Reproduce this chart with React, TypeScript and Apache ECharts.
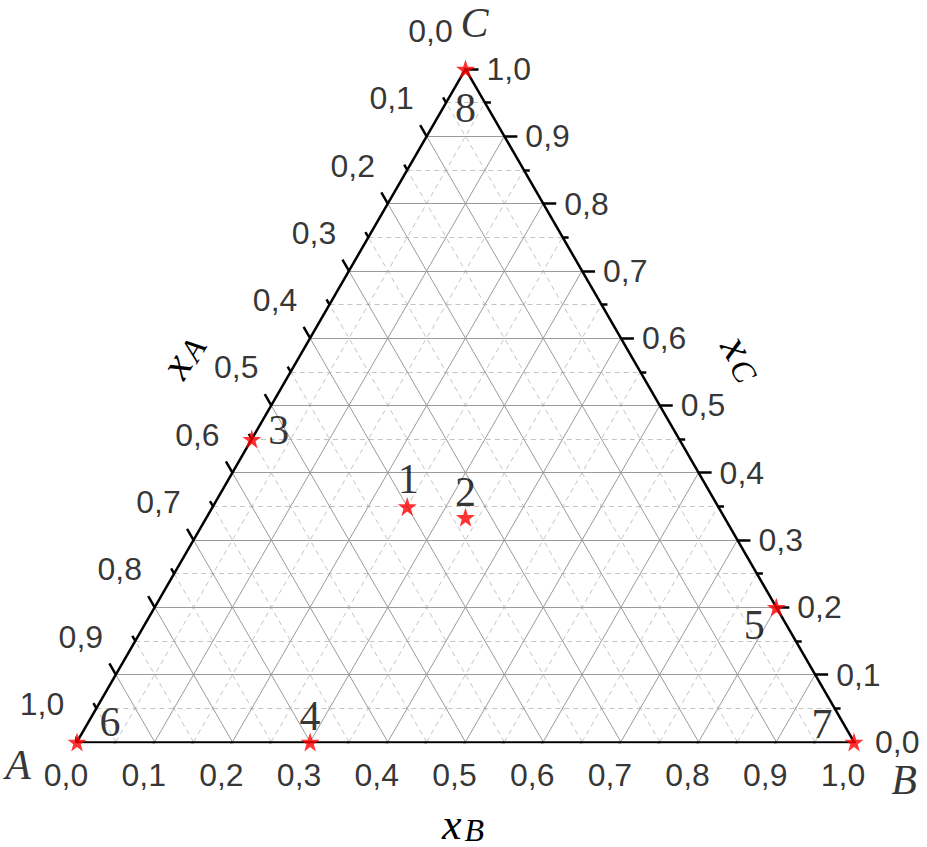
import React, { useEffect, useRef } from "react";
import * as echarts from "echarts";

// ---- data ----
const pointNames = ["1", "2", "3", "4", "5", "6", "7", "8"];
const pointXA = [0.4, 0.333, 0.55, 0.7, 0.0, 1.0, 0.0, 0.0];
const pointXB = [0.25, 0.333, 0.0, 0.3, 0.8, 0.0, 1.0, 0.0];
const pointXC = [0.35, 0.334, 0.45, 0.0, 0.2, 0.0, 0.0, 1.0];

const majorTicks = [0, 0.1, 0.2, 0.3, 0.4, 0.5, 0.6, 0.7, 0.8, 0.9, 1.0];
const minorTicks = [0.05, 0.15, 0.25, 0.35, 0.45, 0.55, 0.65, 0.75, 0.85, 0.95];
const tickLabels = ["0,0", "0,1", "0,2", "0,3", "0,4", "0,5", "0,6", "0,7", "0,8", "0,9", "1,0"];
const vertexNames = ["A", "B", "C"];

// ---- label placement (styling, px offsets from point) ----
const pointLabelOffsets: [number, number][] = [
  [1, -27],
  [0, -25],
  [27, -9],
  [0, -26],
  [-22, 18],
  [33, -20],
  [-32, -18],
  [0, 39],
];
const vertexLabelOffsets: [number, number][] = [
  [-59, 23],
  [50, 38],
  [9, -46],
];

const H = Math.sqrt(3) / 2;
const PX = 1 / 777; // one pixel in data units
const toXY = (b: number, c: number): [number, number] => [b + c / 2, c * H];

const STAR =
  "path://M50,0 L61.8,35.1 L98.1,35.1 L68.8,56.7 L79.4,91.6 L50,70 L20.6,91.6 L31.2,56.7 L1.9,35.1 L38.2,35.1 Z";

function gridSegments(vals: number[]) {
  const segs: { coords: [number, number][] }[] = [];
  vals.forEach((v) => {
    segs.push({ coords: [toXY(0, v), toXY(1 - v, v)] });
    segs.push({ coords: [toXY(v, 0), toXY(v, 1 - v)] });
    segs.push({ coords: [toXY(1 - v, 0), toXY(0, 1 - v)] });
  });
  return segs;
}

function tickSegments(vals: number[], len: number) {
  const segs: { coords: [number, number][] }[] = [];
  const L = len * PX;
  vals.forEach((v) => {
    const pb = toXY(v, 0);
    segs.push({ coords: [pb, [pb[0] - 0.5 * L, pb[1] - H * L]] });
    const pc = toXY(1 - v, v);
    segs.push({ coords: [pc, [pc[0] + L, pc[1]]] });
    const pa = toXY(0, 1 - v);
    segs.push({ coords: [pa, [pa[0] - 0.5 * L, pa[1] + H * L]] });
  });
  return segs;
}

const titleRich = {
  x: { fontFamily: "Liberation Serif, serif", fontStyle: "italic", fontSize: 44, fill: "#000" },
  s: { fontFamily: "Liberation Serif, serif", fontStyle: "italic", fontSize: 32, fill: "#000", padding: [12, 0, 0, 3] },
};

export default function App() {
  const ref = useRef<HTMLDivElement>(null);
  useEffect(() => {
    if (!ref.current) return;
    const chart = echarts.init(ref.current, null, { renderer: "svg" });

    const innerMajor = majorTicks.filter((v) => v > 0 && v < 1);
    const tickFont = {
      fontFamily: "Liberation Sans, Arial, sans-serif",
      fontSize: 32,
      lineHeight: 30,
      color: "#000",
    };

    const bottomLabels = majorTicks.map((v, i) => ({ name: tickLabels[i], value: toXY(v, 0) }));
    const rightLabels = majorTicks.map((v, i) => ({ name: tickLabels[i], value: toXY(1 - v, v) }));
    const leftLabels = majorTicks.map((v, i) => ({ name: tickLabels[i], value: toXY(0, 1 - v) }));

    const points = pointNames.map((n, i) => ({
      name: n,
      value: toXY(pointXB[i], pointXC[i]),
      label: { offset: pointLabelOffsets[i] },
    }));
    const vertices = vertexNames.map((n, i) => ({
      name: n,
      value: i === 0 ? toXY(0, 0) : i === 1 ? toXY(1, 0) : toXY(0, 1),
      label: { offset: vertexLabelOffsets[i] },
    }));

    const hiddenScatter = {
      type: "scatter",
      silent: true,
      clip: false,
      symbolSize: 1,
      itemStyle: { color: "transparent" },
    };

    const option: any = {
      animation: false,
      backgroundColor: "#ffffff",
      grid: { left: 77, top: 69, width: 777, height: 777 * H },
      xAxis: { type: "value", min: 0, max: 1, show: false },
      yAxis: { type: "value", min: 0, max: H, show: false },
      graphic: [
        {
          type: "text",
          x: 182,
          y: 356,
          rotation: Math.PI / 3,
          style: { text: "{x|x}{s|A}", align: "center", verticalAlign: "middle", rich: titleRich },
        },
        {
          type: "text",
          x: 743,
          y: 358,
          rotation: -Math.PI / 3,
          style: { text: "{x|x}{s|C}", align: "center", verticalAlign: "middle", rich: titleRich },
        },
        {
          type: "text",
          x: 463,
          y: 824,
          style: { text: "{x|x}{s|B}", align: "center", verticalAlign: "middle", rich: titleRich },
        },
      ],
      series: [
        {
          type: "lines",
          coordinateSystem: "cartesian2d",
          silent: true,
          z: 1,
          lineStyle: { color: "#c4c4c4", width: 1, type: [5, 4], opacity: 1 },
          data: gridSegments(minorTicks),
        },
        {
          type: "lines",
          coordinateSystem: "cartesian2d",
          silent: true,
          z: 2,
          lineStyle: { color: "#9a9a9a", width: 1, type: "solid", opacity: 1 },
          data: gridSegments(innerMajor),
        },
        {
          type: "lines",
          coordinateSystem: "cartesian2d",
          silent: true,
          z: 3,
          lineStyle: { color: "#000", width: 2.5, opacity: 1 },
          data: [
            { coords: [toXY(0, 0), toXY(1, 0)] },
            { coords: [toXY(1, 0), toXY(0, 1)] },
            { coords: [toXY(0, 1), toXY(0, 0)] },
          ],
        },
        {
          type: "lines",
          coordinateSystem: "cartesian2d",
          silent: true,
          z: 3,
          lineStyle: { color: "#000", width: 2.5, opacity: 1 },
          data: tickSegments(majorTicks, 13),
        },
        {
          type: "lines",
          coordinateSystem: "cartesian2d",
          silent: true,
          z: 3,
          lineStyle: { color: "#000", width: 2.5, opacity: 1 },
          data: tickSegments(minorTicks, 6),
        },
        {
          ...hiddenScatter,
          label: {
            show: true,
            position: "inside",
            formatter: "{b}",
            align: "center",
            verticalAlign: "middle",
            offset: [-11, 33],
            ...tickFont,
          },
          data: bottomLabels,
        },
        {
          ...hiddenScatter,
          label: {
            show: true,
            position: "inside",
            formatter: "{b}",
            align: "left",
            verticalAlign: "middle",
            offset: [21, 0],
            ...tickFont,
          },
          data: rightLabels,
        },
        {
          ...hiddenScatter,
          label: {
            show: true,
            position: "inside",
            formatter: "{b}",
            align: "center",
            verticalAlign: "middle",
            offset: [-35, -38],
            ...tickFont,
          },
          data: leftLabels,
        },
        {
          ...hiddenScatter,
          label: {
            show: true,
            position: "inside",
            formatter: "{b}",
            align: "center",
            verticalAlign: "middle",
            fontFamily: "Liberation Serif, serif",
            fontStyle: "italic",
            fontSize: 42,
            lineHeight: 34,
            color: "#000",
          },
          data: vertices,
        },
        {
          type: "scatter",
          silent: true,
          clip: false,
          z: 5,
          symbol: STAR,
          symbolSize: 19,
          itemStyle: { color: "#ff0000" },
          label: {
            show: true,
            position: "inside",
            formatter: "{b}",
            align: "center",
            verticalAlign: "middle",
            fontFamily: "Liberation Serif, serif",
            fontSize: 42,
            lineHeight: 34,
            color: "#000",
          },
          data: points,
        },
      ],
    };
    chart.setOption(option);
    return () => chart.dispose();
  }, []);

  return (
    <div
      ref={ref}
      style={{ position: "fixed", left: 0, top: 0, width: 927, height: 847, background: "#fff" }}
    />
  );
}
